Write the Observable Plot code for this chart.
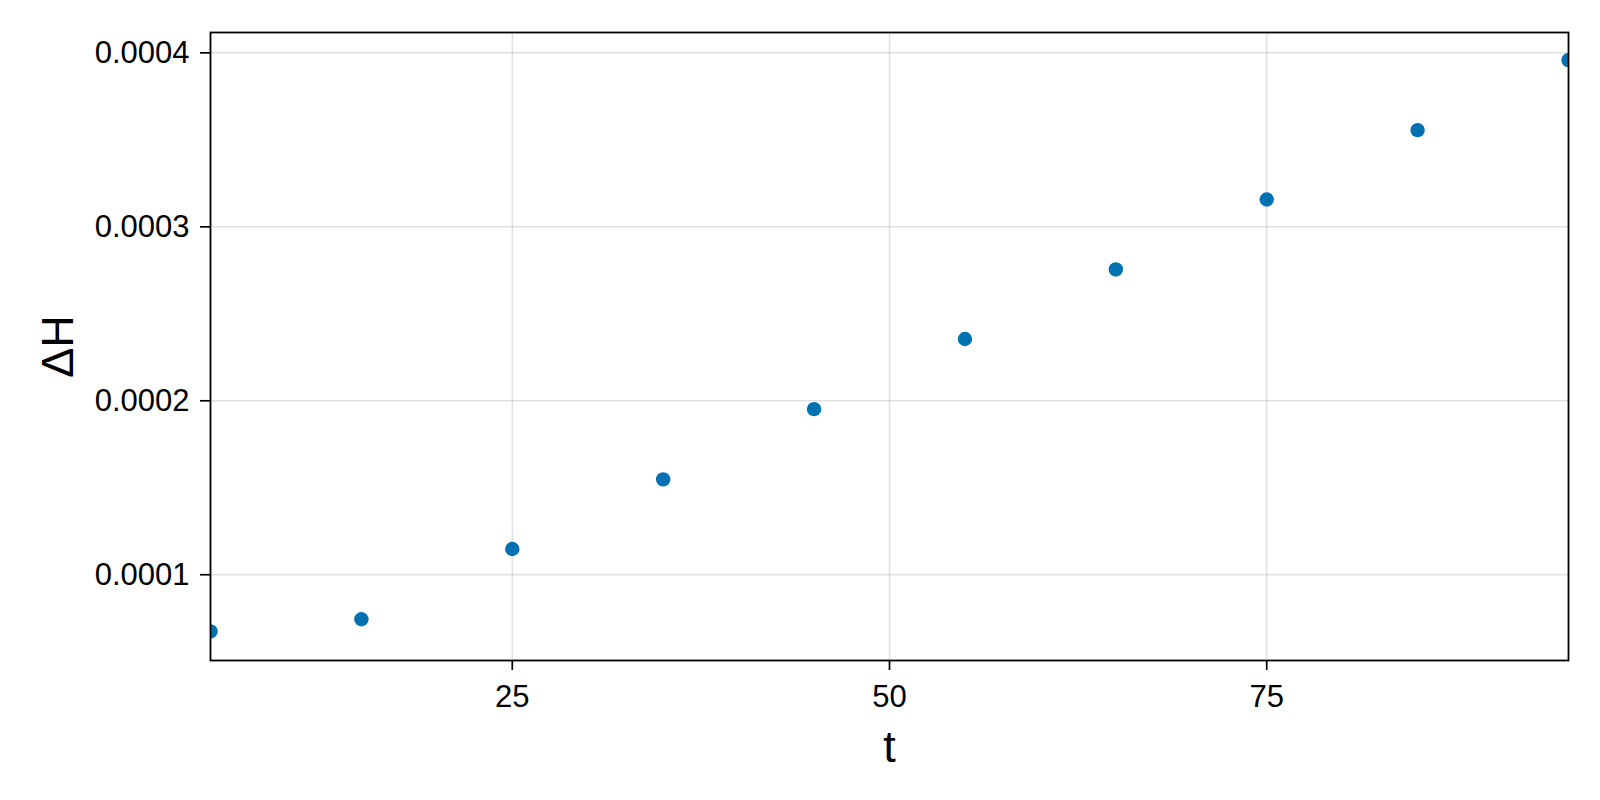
<!DOCTYPE html>
<html>
<head>
<meta charset="utf-8">
<script src="https://cdn.jsdelivr.net/npm/d3@7"></script>
<script src="https://cdn.jsdelivr.net/npm/@observablehq/plot@0.6"></script>
<style>
  html, body { margin: 0; padding: 0; background: #fff; }
  #chart { width: 1600px; height: 800px; }
</style>
</head>
<body>
<div id="chart"></div>
<script>
const tValues = [5, 15, 25, 35, 45, 55, 65, 75, 85, 95];
const dHValues = [6.74e-5, 7.44e-5, 1.148e-4, 1.548e-4, 1.952e-4, 2.355e-4, 2.755e-4, 3.157e-4, 3.556e-4, 3.958e-4];
const xTicks = [25, 50, 75];
const yTicks = [0.0001, 0.0002, 0.0003, 0.0004];
const xLabel = "t";
const yLabel = "ΔH";

const data = tValues.map((t, i) => ({t, dH: dHValues[i]}));

const font = "'Liberation Sans', Arial, Helvetica, sans-serif";

const chart = Plot.plot({
  width: 1600,
  height: 800,
  marginLeft: 210,
  marginRight: 32,
  marginTop: 32,
  marginBottom: 140,
  style: {fontFamily: font, background: "#fff", color: "#000"},
  x: {domain: [5, 95]},
  y: {domain: [5.07e-5, 4.117e-4]},
  marks: [
    Plot.gridX(xTicks, {stroke: "#000", strokeOpacity: 0.12, strokeWidth: 1.5}),
    Plot.gridY(yTicks, {stroke: "#000", strokeOpacity: 0.12, strokeWidth: 1.5}),
    Plot.dot(data, {x: "t", y: "dH", r: 7.2, fill: "#0072B2", stroke: null, clip: true}),
    Plot.frame({stroke: "#000", strokeWidth: 1.8}),
    Plot.axisX(xTicks, {tickSize: 10, tickPadding: 14, fontSize: 31, label: null, strokeWidth: 1.7, tickFormat: d => String(d)}),
    Plot.axisY(yTicks, {tickSize: 10, tickPadding: 11, fontSize: 31, label: null, strokeWidth: 1.7, tickFormat: d => d.toFixed(4)}),
    Plot.text([xLabel], {frameAnchor: "bottom", text: d => d, dy: 87, fontSize: 45, lineAnchor: "middle", textAnchor: "middle"}),
    Plot.text([yLabel], {frameAnchor: "left", text: d => d, dx: -152, rotate: -90, fontSize: 45, lineAnchor: "middle", textAnchor: "middle"})
  ]
});
document.getElementById("chart").appendChild(chart);
</script>
</body>
</html>
